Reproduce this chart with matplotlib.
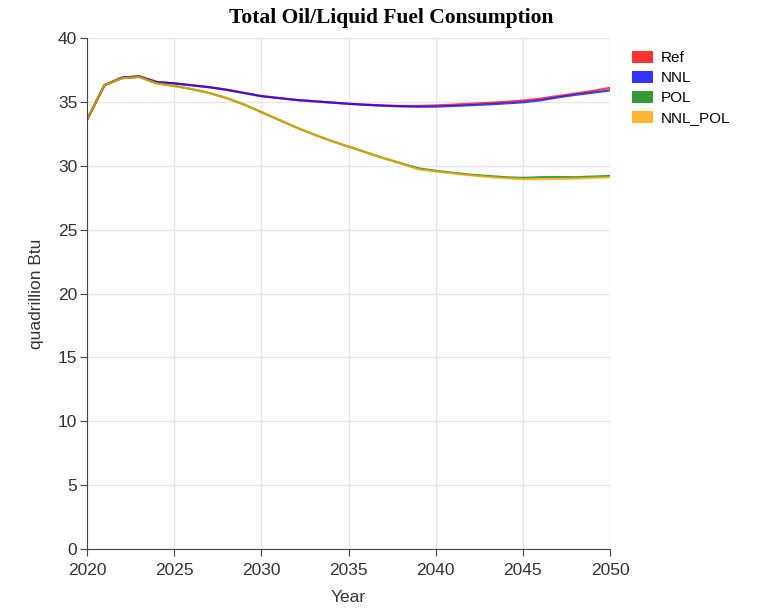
import matplotlib.pyplot as plt
from matplotlib.patches import Patch

# Jaren en scenario's
years = list(range(2020, 2051))

ref = [33.6, 36.3, 36.9, 37.0, 36.55, 36.45, 36.3, 36.15, 35.95, 35.7,
       35.45, 35.3, 35.15, 35.05, 34.95, 34.85, 34.78, 34.72, 34.68, 34.68,
       34.72, 34.78, 34.85, 34.92, 35.0, 35.1, 35.25, 35.45, 35.65, 35.85, 36.1]
nnl = [33.6, 36.3, 36.9, 37.0, 36.55, 36.45, 36.3, 36.15, 35.95, 35.7,
       35.45, 35.3, 35.15, 35.05, 34.95, 34.85, 34.77, 34.7, 34.65, 34.62,
       34.63, 34.68, 34.74, 34.8, 34.88, 34.97, 35.12, 35.35, 35.55, 35.72, 35.9]
pol = [33.6, 36.3, 36.85, 36.95, 36.45, 36.25, 36.0, 35.7, 35.3, 34.8,
       34.2, 33.6, 33.0, 32.45, 31.95, 31.5, 31.05, 30.6, 30.2, 29.8,
       29.6, 29.45, 29.3, 29.2, 29.1, 29.05, 29.1, 29.12, 29.1, 29.15, 29.2]
nnl_pol = [33.6, 36.3, 36.85, 36.95, 36.45, 36.25, 36.0, 35.7, 35.3, 34.8,
           34.2, 33.6, 33.0, 32.45, 31.95, 31.5, 31.05, 30.6, 30.18, 29.72,
           29.55, 29.4, 29.25, 29.12, 29.02, 28.95, 28.95, 28.97, 29.0, 29.05, 29.1]

series = [("Ref", ref, "#ff0000"), ("NNL", nnl, "#0000ff"),
          ("POL", pol, "#008000"), ("NNL_POL", nnl_pol, "#ffa500")]

plt.rcParams['font.family'] = ['Liberation Sans', 'DejaVu Sans']

fig = plt.figure(figsize=(7.68, 6.14), dpi=100)
ax = fig.add_axes([87 / 768, 65 / 614, 523 / 768, 511 / 614])

for name, vals, kleur in series:
    ax.plot(years, vals, color=kleur, lw=1.6, alpha=0.75)

ax.set_xlim(2020, 2050)
ax.set_ylim(0, 40)
ax.set_xticks(range(2020, 2051, 5))
ax.set_yticks(range(0, 41, 5))
ax.grid(color="#e6e6e6", lw=1)
ax.set_axisbelow(True)
for s in ["top", "right"]:
    ax.spines[s].set_visible(False)
for s in ["left", "bottom"]:
    ax.spines[s].set_color("#444444")
ax.tick_params(direction="out", length=5, labelsize=12.5,
               colors="#444444", labelcolor="#333333", pad=2)
ax.tick_params(axis="x", pad=5)

ax.set_xlabel("Year", fontsize=12.5, color="#333333", labelpad=9)
ax.set_ylabel("quadrillion Btu", fontsize=12.5, color="#333333", labelpad=10)

fig.text(391 / 768, 1 - 18 / 614, "Total Oil/Liquid Fuel Consumption",
         ha="center", va="center", fontsize=15.5, fontweight="bold",
         family="Liberation Serif")

handles = [Patch(facecolor=k, alpha=0.8, edgecolor="none") for _, _, k in series]
fig.legend(handles, [s[0] for s in series], loc="upper left",
           bbox_to_anchor=(618 / 768, 1 - 37 / 614), frameon=False,
           fontsize=11, handlelength=1.4, handleheight=0.9, handletextpad=0.5,
           labelspacing=0.35)

fig.savefig("out.png", dpi=100)
